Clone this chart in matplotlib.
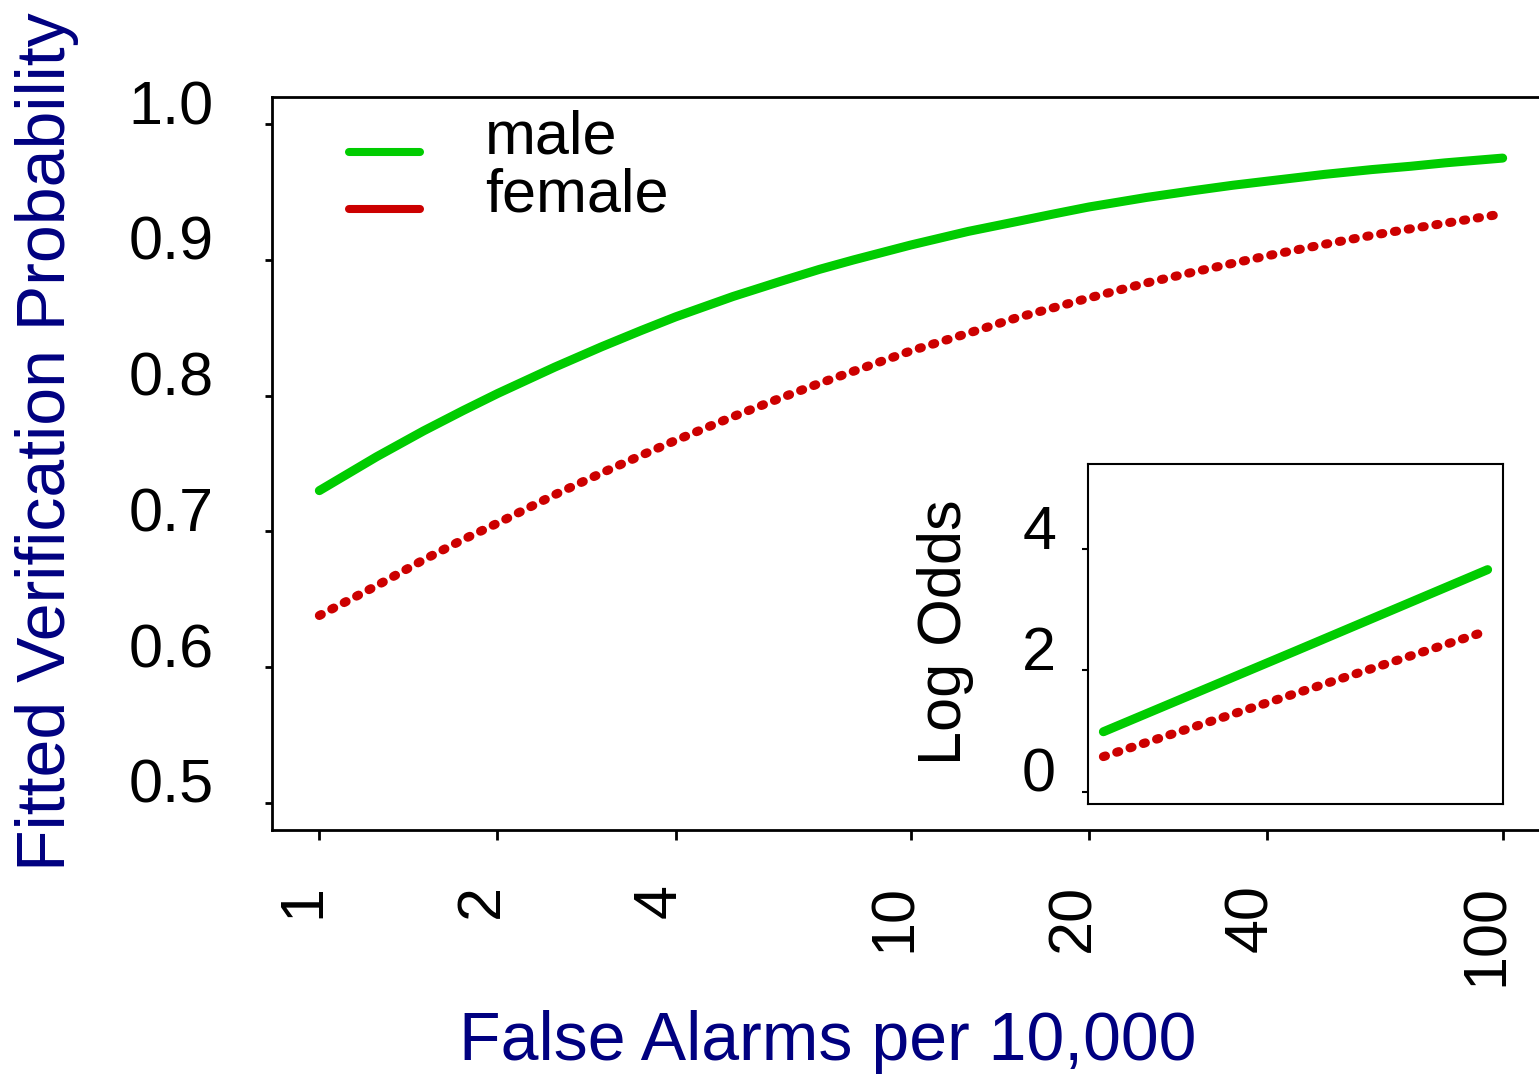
import matplotlib
matplotlib.use("Agg")
import matplotlib.pyplot as plt
from matplotlib.lines import Line2D

plt.rcParams['font.family'] = ['Liberation Sans', 'DejaVu Sans']

# data (fitted probabilities)
far = [1, 1.25, 1.5, 1.75, 2, 2.5, 3, 3.5, 4, 5, 6, 7, 8, 10,
       12.5, 15, 17.5, 20, 25, 30, 35, 40, 50, 60, 70, 80, 100]
male_prob = [0.730, 0.755, 0.774, 0.789, 0.8015, 0.821, 0.836, 0.848, 0.858, 0.873, 0.884, 0.893, 0.900, 0.911,
             0.921, 0.928, 0.934, 0.939, 0.946, 0.951, 0.955, 0.958, 0.963, 0.9665, 0.969, 0.9715, 0.975]
far_f = [1, 1.25, 1.5, 1.75, 2, 2.5, 3, 3.5, 4, 5, 6, 7, 8, 10,
         12.5, 15, 17.5, 20, 25, 30, 35, 40, 50, 60, 70, 80, 97]
female_prob = [0.638, 0.660, 0.679, 0.694, 0.706, 0.727, 0.743, 0.756, 0.767, 0.7845, 0.798, 0.809, 0.818, 0.833,
               0.846, 0.857, 0.865, 0.872, 0.883, 0.891, 0.8975, 0.903, 0.9115, 0.918, 0.923, 0.927, 0.933]

# inset: log odds
far_in_m = [1, 10, 100]
male_logodds = [0.99, 2.32, 3.66]
far_in_f = [1, 10, 97]
female_logodds = [0.58, 1.62, 2.64]

xticks = [1, 2, 4, 10, 20, 40, 100]
xticklabels = ['1', '2', '4', '10', '20', '40', '100']
yticks = [0.5, 0.6, 0.7, 0.8, 0.9, 1.0]
yticklabels = ['0.5', '0.6', '0.7', '0.8', '0.9', '1.0']
inset_yticks = [0, 2, 4]
legend_labels = ['male', 'female']

green = '#00CC00'
red = '#CC0000'
navy = '#000080'
lw = 6.5
dots = (0, (0.25, 1.3))

W, H = 1539, 1074
fig = plt.figure(figsize=(W / 100, H / 100), dpi=100)

# main axes (right edge runs off the figure, as in the reference)
ax = fig.add_axes([272 / W, (H - 830) / H, 1278 / W, 733 / H])
ax.set_xscale('log')
ax.plot(far, male_prob, color=green, lw=lw, solid_capstyle='round', solid_joinstyle='round')
ax.plot(far_f, female_prob, color=red, lw=lw, linestyle=dots, dash_capstyle='round')
ax.set_xlim(10 ** -0.08, 10 ** 2.08)
ax.set_ylim(0.48, 1.02)
ax.minorticks_off()
ax.set_xticks(xticks)
ax.set_xticklabels(xticklabels, rotation=90, rotation_mode='anchor', ha='right', va='baseline')
ax.set_yticks(yticks)
ax.set_yticklabels(yticklabels, ha='right', va='baseline')
ax.tick_params(axis='x', length=7, width=2, labelsize=44, pad=32)
ax.tick_params(axis='y', length=5, width=2, labelsize=44, pad=37)
ax.spines['right'].set_visible(False)
for s in ['top', 'left', 'bottom']:
    ax.spines[s].set_linewidth(2)

# legend drawn by hand to get R's spacing
for i, (lab, col) in enumerate(zip(legend_labels, [green, red])):
    yy = (H - 152 - 57 * i) / H
    fig.add_artist(Line2D([349 / W, 420 / W], [yy, yy], color=col, lw=5.8,
                          solid_capstyle='round', transform=fig.transFigure))
    fig.text(485 / W, (H - 153 - 58 * i) / H, lab, ha='left', va='baseline', fontsize=44)

fig.text(47 / W, (H - 442) / H, 'Fitted Verification Probability', rotation=90,
         ha='center', va='center', fontsize=49, color=navy)
fig.text(828 / W, (H - 1060) / H, 'False Alarms per 10,000', ha='center', va='baseline',
         fontsize=49, color=navy)

# inset with log odds
axi = fig.add_axes([1088 / W, (H - 804) / H, 415 / W, 340 / H])
axi.set_xscale('log')
axi.plot(far_in_m, male_logodds, color=green, lw=lw, solid_capstyle='round')
axi.plot(far_in_f, female_logodds, color=red, lw=lw, linestyle=dots, dash_capstyle='round')
axi.set_xlim(10 ** -0.08, 10 ** 2.08)
axi.set_ylim(-0.2, 5.4)
axi.minorticks_off()
axi.set_xticks([])
axi.set_yticks(inset_yticks)
axi.set_yticklabels([str(v) for v in inset_yticks], ha='right', va='baseline')
axi.tick_params(axis='y', length=4, width=1.5, labelsize=44, pad=19)
for s in axi.spines.values():
    s.set_linewidth(1.5)
fig.text(945 / W, (H - 632) / H, 'Log Odds', rotation=90, ha='center', va='center',
         fontsize=44, color='black')

fig.savefig('out.png', dpi=100)
